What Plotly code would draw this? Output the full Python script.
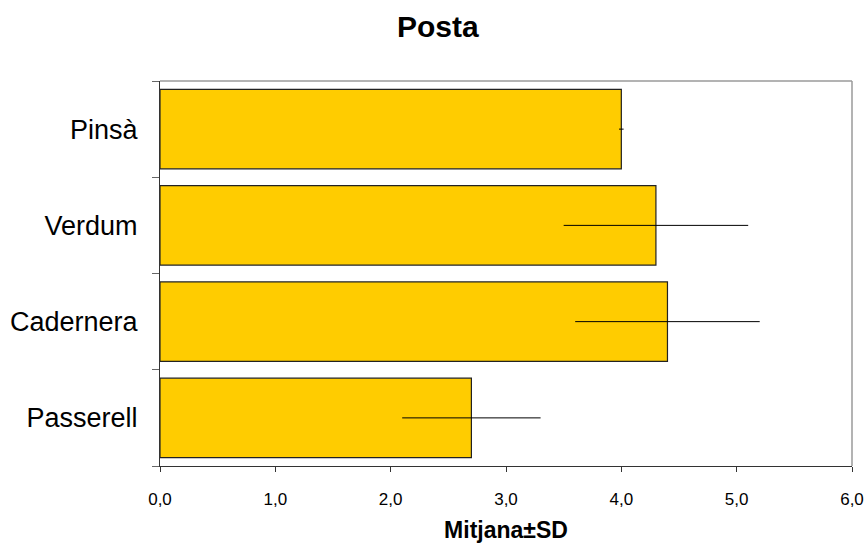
import plotly.graph_objects as go

categories = ["Passerell", "Cadernera", "Verdum", "Pinsà"]
means = [2.7, 4.4, 4.3, 4.0]
sds = [0.6, 0.8, 0.8, 0.02]
x_ticks = [0, 1, 2, 3, 4, 5, 6]
x_tick_labels = ["0,0", "1,0", "2,0", "3,0", "4,0", "5,0", "6,0"]

FONT = "Liberation Sans, Arial, sans-serif"

fig = go.Figure()
fig.add_trace(go.Bar(
    y=categories, x=means, orientation="h",
    marker=dict(color="#FFCC00", line=dict(color="#222222", width=1.2)),
    error_x=dict(type="data", array=sds, visible=True, color="#000000",
                 thickness=1, width=0),
))
# light grey frame on top and right of the plot area
fig.add_shape(type="line", xref="paper", yref="paper", x0=0, x1=1, y0=1, y1=1,
              line=dict(color="#9a9a9a", width=1.5), layer="below")
fig.add_shape(type="line", xref="paper", yref="paper", x0=1, x1=1, y0=0, y1=1,
              line=dict(color="#9a9a9a", width=1.5), layer="below")
fig.update_layout(
    width=867, height=543,
    paper_bgcolor="white", plot_bgcolor="white",
    margin=dict(l=160, r=15, t=81, b=77, autoexpand=False),
    bargap=0.175,
    showlegend=False,
    font=dict(family=FONT, color="#000000"),
    title=dict(text="<b>Posta</b>", x=0.505, xref="container", xanchor="center",
               y=0.952, yanchor="middle", font=dict(size=30, family=FONT)),
    xaxis=dict(range=[0, 6], tickvals=x_ticks, ticktext=x_tick_labels,
               showgrid=False, zeroline=False, showline=True, linecolor="#333333",
               linewidth=1.2, ticks="outside", ticklen=5, tickcolor="#333333",
               tickfont=dict(size=17), ticklabelstandoff=12, automargin=False,
               title=dict(text="<b>Mitjana±SD</b>", font=dict(size=23), standoff=17)),
    yaxis=dict(showgrid=False, zeroline=False, showline=True, linecolor="#333333",
               linewidth=1.2, ticks="outside", ticklen=7, tickcolor="#666666",
               tickson="boundaries", tickfont=dict(size=27), ticklabelstandoff=16,
               automargin=False),
)
fig.write_html("out.html", config={"displayModeBar": False},
               post_script="document.body.style.margin='0';document.body.style.overflow='hidden';")
